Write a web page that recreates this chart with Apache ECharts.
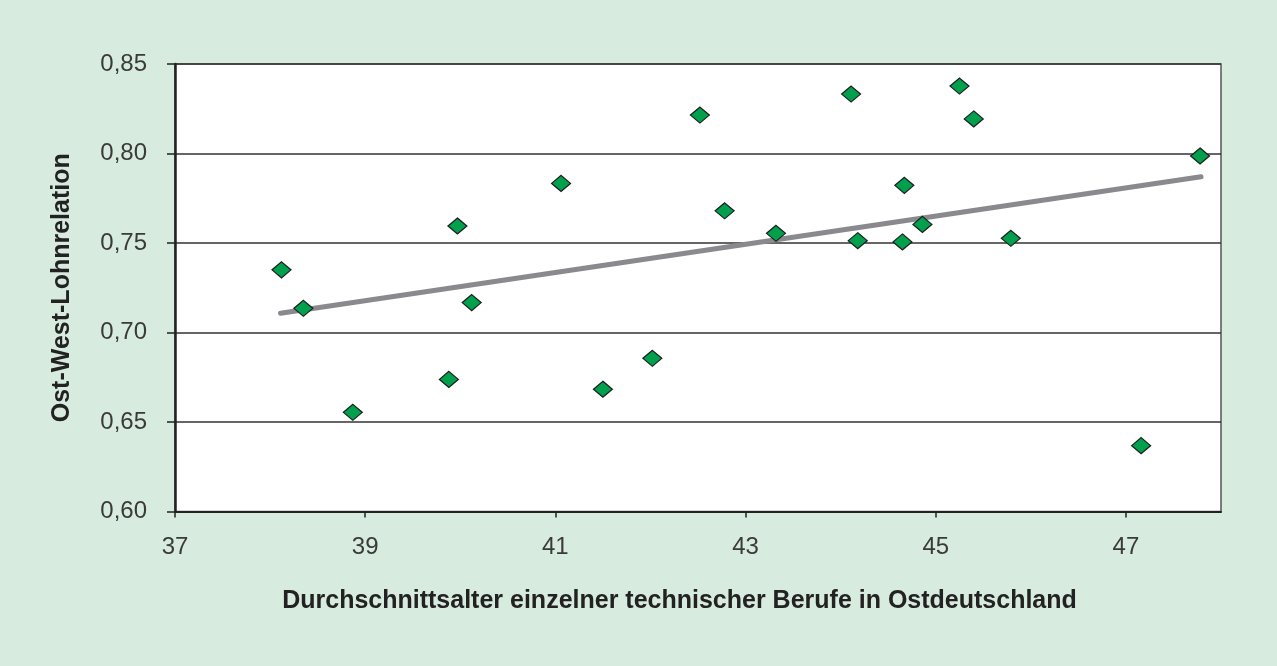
<!DOCTYPE html>
<html>
<head>
<meta charset="utf-8">
<script src="https://cdn.jsdelivr.net/npm/echarts@6/dist/echarts.min.js"></script>
<style>
  html, body { margin: 0; padding: 0; background: #d8ebdf; }
  #container { width: 1277px; height: 666px; }
</style>
</head>
<body>
<div id="container"></div>
<script>
  // average age of technical professions in East Germany (x) vs. east/west wage ratio (y)
  var ages = [38.12, 38.35, 38.87, 39.88, 39.97, 40.12, 41.06, 41.50, 42.02, 42.52, 42.78,
              43.32, 44.11, 44.18, 44.65, 44.67, 44.86, 45.25, 45.40, 45.79, 47.16, 47.78];
  var ratios = [0.735, 0.7135, 0.6554, 0.6738, 0.7595, 0.7167, 0.7833, 0.6683, 0.6856, 0.8215, 0.768,
                0.7554, 0.8332, 0.7513, 0.7506, 0.7822, 0.7604, 0.8377, 0.8193, 0.7526, 0.6368, 0.7986];

  // linear trend line, endpoints
  var trendAges = [38.11, 47.79];
  var trendRatios = [0.7107, 0.787];

  var xTicks = [37, 39, 41, 43, 45, 47];
  var yTicks = [0.60, 0.65, 0.70, 0.75, 0.80, 0.85];

  var points = ages.map(function (a, i) { return [a, ratios[i]]; });
  var trend = trendAges.map(function (a, i) { return [a, trendRatios[i]]; });

  var font = 'Liberation Sans, Arial, sans-serif';

  var chart = echarts.init(document.getElementById('container'), null, { renderer: 'canvas' });

  chart.setOption({
    backgroundColor: '#d8ebdf',
    animation: false,
    grid: {
      left: 175, top: 64, right: 56, bottom: 154.5,
      show: true,
      backgroundColor: '#ffffff',
      borderColor: '#555555',
      borderWidth: 1.5
    },
    xAxis: {
      type: 'value',
      min: 37,
      max: 48,
      interval: 2,
      name: 'Durchschnittsalter einzelner technischer Berufe in Ostdeutschland',
      nameLocation: 'middle',
      nameGap: 77,
      nameTextStyle: {
        fontFamily: font, fontSize: 25, fontWeight: 'bold', color: '#222222',
        padding: [0, 37, 0, 0]
      },
      axisLine: { show: true, onZero: false, lineStyle: { color: '#222222', width: 2 } },
      axisTick: { show: true, length: 6, customValues: xTicks, lineStyle: { color: '#222222', width: 1.5 } },
      axisLabel: {
        customValues: xTicks,
        margin: 24,
        fontFamily: font, fontSize: 24, color: '#3a3a3a'
      },
      splitLine: { show: false }
    },
    yAxis: {
      type: 'value',
      min: 0.60,
      max: 0.85,
      interval: 0.05,
      name: 'Ost-West-Lohnrelation',
      nameLocation: 'middle',
      nameGap: 100,
      nameTextStyle: { fontFamily: font, fontSize: 25, fontWeight: 'bold', color: '#222222' },
      axisLine: { show: true, onZero: false, lineStyle: { color: '#222222', width: 2.5 } },
      axisTick: { show: true, length: 8, customValues: yTicks, lineStyle: { color: '#222222', width: 1.5 } },
      axisLabel: {
        customValues: yTicks,
        margin: 28,
        fontFamily: font, fontSize: 24, color: '#3a3a3a',
        formatter: function (v) { return v.toFixed(2).replace('.', ','); }
      },
      splitLine: { show: true, lineStyle: { color: '#333333', width: 1.5 } }
    },
    series: [
      {
        type: 'line',
        data: trend,
        symbol: 'none',
        lineStyle: { color: '#8a8a8e', width: 5, cap: 'round' },
        z: 2
      },
      {
        type: 'scatter',
        data: points,
        symbol: 'diamond',
        symbolSize: [19, 16],
        itemStyle: { color: '#00a04d', opacity: 1, borderColor: '#1e1e1e', borderWidth: 1.2 },
        z: 3
      }
    ]
  });

  window.addEventListener('resize', function () { chart.resize(); });
</script>
</body>
</html>
